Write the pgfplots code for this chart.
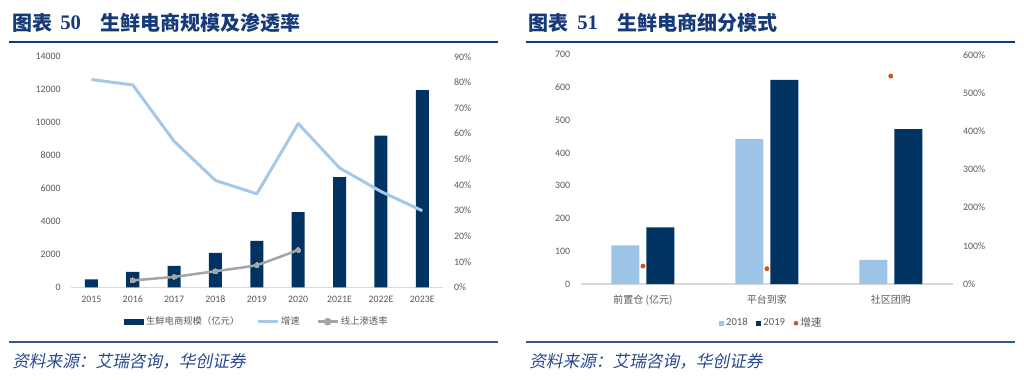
\documentclass[border=0pt]{standalone}
\usepackage{pgfplots}
\pgfplotsset{compat=1.18}
\usepackage{fontspec}
\setmainfont{Carlito}
\newfontfamily\cjk{Noto Sans CJK SC}
\newfontfamily\kai[FakeSlant=0.2]{Noto Sans CJK SC}
\newfontfamily\serifb{Liberation Serif}
\definecolor{titleblue}{RGB}{22,58,120}
\definecolor{ruleblue}{RGB}{16,58,128}
\definecolor{rulelow}{RGB}{50,90,150}
\definecolor{srcblue}{RGB}{40,72,140}
\definecolor{barblue}{RGB}{0,50,98}
\definecolor{lightline}{RGB}{164,200,234}
\definecolor{lightbar}{RGB}{157,195,230}
\definecolor{grayline}{RGB}{165,165,165}
\definecolor{dotorange}{RGB}{197,90,17}
\definecolor{ticktext}{RGB}{89,89,89}
\definecolor{axisgray}{RGB}{217,217,217}

\pgfplotsset{
  barleg/.style={legend image code/.code={\fill[barblue] (0pt,-2.25pt) rectangle (15pt,2.25pt);}},
  lineleg/.style={legend image code/.code={\draw[##1] (0pt,0pt) -- (15pt,0pt);}},
  markleg/.style={legend image code/.code={\draw[##1] (0pt,0pt) -- (15pt,0pt); \fill[grayline] (7.5pt,0pt) circle (1.9pt);}},
  sqlegA/.style={legend image code/.code={\fill[lightbar] (0pt,-1.9pt) rectangle (3.8pt,1.9pt);}},
  sqlegB/.style={legend image code/.code={\fill[barblue] (0pt,-1.9pt) rectangle (3.8pt,1.9pt);}},
  dotleg/.style={legend image code/.code={\fill[dotorange] (1.9pt,0pt) circle (1.5pt);}},
  base/.style={
    scale only axis,
    tick style={draw=none}, major tick length=0pt,
    ticklabel style={text=ticktext, font=\fontsize{7.4}{8}\selectfont},
    /pgf/number format/assume math mode=true,
    /pgf/number format/1000 sep={},
    scaled y ticks=false,
  },
}

\pgfplotstableread{
x val
0 487
1 931
2 1296
3 2088
4 2818
5 4565
6 6695
7 9210
8 11966
}\sizedata
\pgfplotstableread{
x g
0 81.1
1 79.0
2 57.0
3 41.7
4 36.5
5 63.9
6 46.6
7 37.4
8 29.9
}\growthdata
\pgfplotstableread{
x p
1 2.7
2 4.1
3 6.3
4 8.7
5 14.6
}\pendata

\begin{document}
\begin{tikzpicture}
\begin{scope}[x=0.75pt,y=-0.75pt]
\path[use as bounding box] (0,0) rectangle (1024,379);
% titles
\node[anchor=west, inner sep=0, text=titleblue, font=\cjk\bfseries\fontsize{15}{18}\selectfont] at (12,22.5) {图表};
\node[anchor=west, inner sep=0, text=titleblue, font=\serifb\bfseries\fontsize{15.5}{18}\selectfont] at (60,22.5) {50};
\node[anchor=west, inner sep=0, text=titleblue, font=\cjk\bfseries\fontsize{15}{18}\selectfont] at (100,22.5) {生鲜电商规模及渗透率};
\node[anchor=west, inner sep=0, text=titleblue, font=\cjk\bfseries\fontsize{15}{18}\selectfont] at (528,22.5) {图表};
\node[anchor=west, inner sep=0, text=titleblue, font=\serifb\bfseries\fontsize{15.5}{18}\selectfont] at (577,22.5) {51};
\node[anchor=west, inner sep=0, text=titleblue, font=\cjk\bfseries\fontsize{15}{18}\selectfont] at (617,22.5) {生鲜电商细分模式};
% rules
\draw[ruleblue, line width=2pt] (9,42) -- (498,42);
\draw[ruleblue, line width=2pt] (526,42) -- (1015,42);
\draw[rulelow, line width=1.2pt] (9,341.7) -- (498,341.7);
\draw[rulelow, line width=1.2pt] (526,341.7) -- (1015,341.7);
% sources
\node[anchor=west, inner sep=0, text=srcblue, font=\kai\fontsize{12.5}{14}\selectfont] at (12,361.7) {资料来源：艾瑞咨询，华创证券};
\node[anchor=west, inner sep=0, text=srcblue, font=\kai\fontsize{12.5}{14}\selectfont] at (529,361.7) {资料来源：艾瑞咨询，华创证券};
\end{scope}

% ---------- left chart, left axis ----------
\begin{axis}[base,
  at={(53.03pt,-215.48pt)}, anchor=south west,
  width=279.2pt, height=172.95pt,
  xmin=-0.5, xmax=8.5, ymin=0, ymax=14000,
  axis x line*=bottom, axis y line*=left,
  y axis line style={draw=none},
  x axis line style={axisgray, line width=0.8pt},
  ytick={0,2000,...,14000},
  xtick={0,...,8},
  xticklabels={2015,2016,2017,2018,2019,2020,2021E,2022E,2023E},
  xticklabel style={anchor=north, inner sep=0pt, yshift=-6.5pt},
  yticklabel style={anchor=east, inner sep=0pt, xshift=-7.3pt},
  legend style={draw=none, fill=none, at={(0.5,-0.149)}, anchor=center,
    legend columns=3, font=\cjk\fontsize{7}{8}\selectfont, text=ticktext,
    nodes={inner sep=1.5pt},
    /tikz/every even column/.append style={column sep=11pt}},
  legend cell align=left,
]
\addplot[ybar, bar width=9.75pt, fill=barblue, draw=none, barleg] table[x=x,y=val]{\sizedata};
\addlegendentry{生鲜电商规模（亿元）}
\addlegendimage{lightline, line width=2.25pt, lineleg}
\addlegendentry{增速}
\addlegendimage{grayline, line width=1.9pt, markleg}
\addlegendentry{线上渗透率}
\end{axis}

% ---------- left chart, right axis ----------
\begin{axis}[base,
  at={(53.03pt,-215.48pt)}, anchor=south west,
  width=279.2pt, height=172.95pt,
  xmin=-0.5, xmax=8.5, ymin=0, ymax=90,
  axis x line=none, axis y line*=right,
  y axis line style={draw=none},
  ytick={0,10,...,90},
  yticklabel={\pgfmathprintnumber{\tick}\%},
  yticklabel style={anchor=west, inner sep=0pt, xshift=8.25pt},
]
\addplot[lightline, line width=2.25pt, line join=round] table[x=x,y=g]{\growthdata};
\addplot[grayline, line width=1.9pt, smooth, tension=0.3, mark=*, mark size=1.9pt,
  mark options={fill=grayline, draw=grayline, line width=0pt}] table[x=x,y=p]{\pendata};
\end{axis}

% ---------- right chart, left axis ----------
\begin{axis}[base,
  at={(435.75pt,-213pt)}, anchor=south west,
  width=278.8pt, height=171.98pt,
  xmin=-0.5, xmax=2.5, ymin=0, ymax=700,
  axis x line*=bottom, axis y line*=left,
  y axis line style={draw=none},
  x axis line style={axisgray, line width=0.8pt},
  ytick={0,100,...,700},
  xtick={0,1,2},
  xticklabels={前置仓 (亿元),平台到家,社区团购},
  xticklabel style={anchor=north, inner sep=0pt, yshift=-8pt, font=\cjk\fontsize{7.5}{8}\selectfont},
  yticklabel style={anchor=east, inner sep=0pt, xshift=-8pt},
  ybar=5.25pt, bar width=21pt,
  legend style={draw=none, fill=none, at={(0.512,-0.171)}, anchor=center,
    legend columns=3, font=\fontsize{8}{9}\selectfont, text=ticktext,
    nodes={inner sep=1.5pt},
    /tikz/every even column/.append style={column sep=5pt}},
  legend cell align=left,
]
\addplot[fill=lightbar, draw=none, sqlegA] coordinates {(0,118) (1,442) (2,74)};
\addlegendentry{2018}
\addplot[fill=barblue, draw=none, sqlegB] coordinates {(0,173) (1,623) (2,473)};
\addlegendentry{2019}
\addlegendimage{dotleg}
\addlegendentry{\cjk 增速}
\end{axis}

% ---------- right chart, right axis ----------
\begin{axis}[base,
  at={(435.75pt,-213pt)}, anchor=south west,
  width=278.8pt, height=171.98pt,
  xmin=-0.5, xmax=2.5, ymin=0, ymax=600,
  axis x line=none, axis y line*=right,
  y axis line style={draw=none},
  ytick={0,100,...,600},
  yticklabel={\pgfmathprintnumber{\tick}\%},
  yticklabel style={anchor=west, inner sep=0pt, xshift=7.5pt},
]
\addplot[only marks, mark=*, mark size=1.6pt, color=dotorange] coordinates {(0,47) (1,40) (2,544)};
\end{axis}
\end{tikzpicture}
\end{document}
